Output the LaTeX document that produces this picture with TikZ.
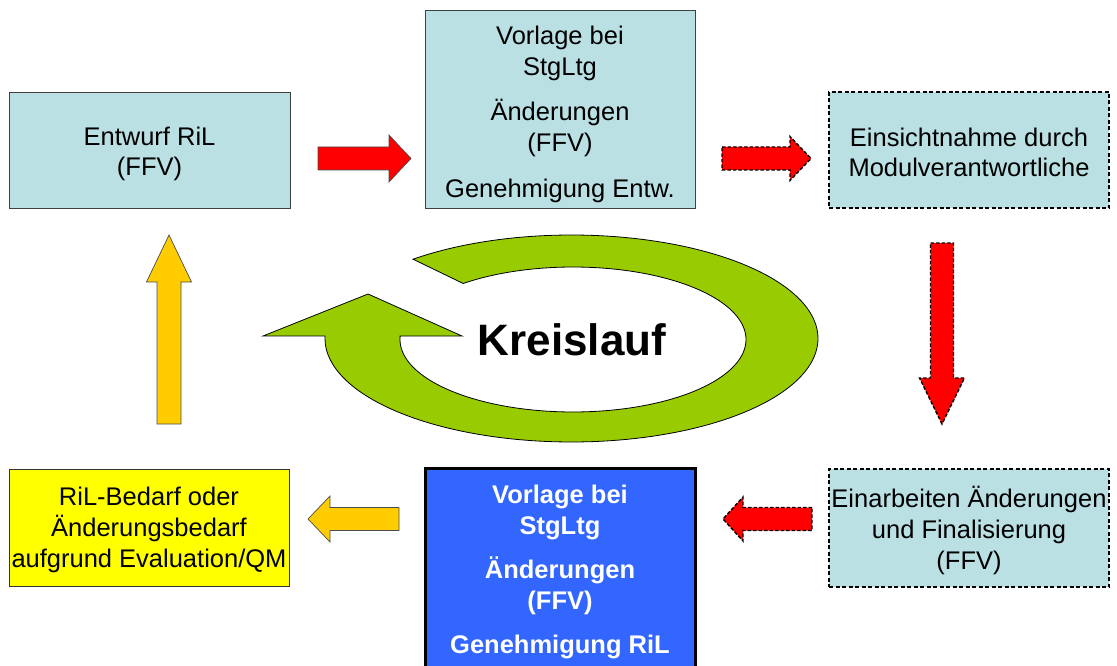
\documentclass[tikz,border=0pt]{standalone}
\usepackage{fontspec}
\setmainfont{Liberation Sans}
\definecolor{cyanbox}{RGB}{186,224,227}
\definecolor{bluebox}{RGB}{51,102,255}
\definecolor{yellowbox}{RGB}{255,255,0}
\definecolor{arrowyellow}{RGB}{255,204,0}
\definecolor{ringgreen}{RGB}{153,204,0}
\definecolor{arrowred}{RGB}{255,0,0}
\newcommand\boxfont{\fontsize{25.5}{30}\selectfont}
\newcommand\bluefont{\fontsize{25.5}{31}\selectfont\bfseries}
\begin{document}
\begin{tikzpicture}[x=1pt,y=-1pt,
  box/.style={draw=black!75, line width=0.8pt, fill=cyanbox, inner sep=0pt},
  dbox/.style={box, draw=black, dash pattern=on 4pt off 2.5pt, line width=1.4pt},
  boxtext/.style={inner sep=0pt, align=center, font=\boxfont},
  solidarrow/.style={draw=black!70, line width=0.7pt, line join=miter},
  dasharrow/.style={draw=black, dash pattern=on 3.5pt off 2pt, line width=1.4pt, fill=arrowred, line join=miter},
  ring/.style={draw=black, line width=0.8pt, fill=ringgreen}]
\useasboundingbox (0,0) rectangle (1117,666);
\clip (0,0) rectangle (1117,666);

% boxes
\node[box, minimum width=281pt, minimum height=116pt] (entwurf) at (149.5,150) {};
\node[boxtext] (entwurf-t) at ([yshift=-4pt]entwurf.center) {Entwurf RiL\\(FFV)};

\node[box, minimum width=270pt, minimum height=198pt] (vorlage) at (560,109) {};
\node[boxtext, font=\fontsize{25.5}{31}\selectfont] (vorlage-t) at ([yshift=-5pt]vorlage.center)
  {Vorlage bei\\StgLtg\\[14pt]Änderungen\\(FFV)\\[15pt]Genehmigung Entw.};

\node[dbox, minimum width=280pt, minimum height=116pt] (einsicht) at (969,150) {};
\node[boxtext] (einsicht-t) at ([yshift=-2pt]einsicht.center) {Einsichtnahme durch\\Modulverantwortliche};

\node[dbox, minimum width=280pt, minimum height=118pt] (einarb) at (969,528) {};
\node[boxtext, font=\fontsize{25.5}{31}\selectfont] (einarb-t) at ([yshift=-2pt]einarb.center)
  {Einarbeiten Änderungen\\und Finalisierung\\(FFV)};

\node[draw=black, line width=3pt, fill=bluebox, inner sep=0pt,
  minimum width=270pt, minimum height=204pt] (genehm) at (560,570) {};
\node[boxtext, font=\bluefont, text=white] (genehm-t) at ([yshift=-2pt]genehm.center)
  {Vorlage bei\\StgLtg\\[13pt]Änderungen\\(FFV)\\[13pt]Genehmigung RiL};

\node[box, fill=yellowbox, draw=black!80, minimum width=280pt, minimum height=117pt] (bedarf) at (149,527.5) {};
\node[boxtext, font=\fontsize{25.5}{31}\selectfont] (bedarf-t) at ([yshift=-2.5pt]bedarf.center)
  {RiL-Bedarf oder\\Änderungsbedarf\\aufgrund Evaluation/QM};

% block arrows
\draw[solidarrow, fill=arrowred] (318,147) -- (389,147) -- (389,135) -- (411,158.5) -- (389,182) -- (389,170) -- (318,170) -- cycle;
\draw[dasharrow] (722,147) -- (790,147) -- (790,136.5) -- (811,158.5) -- (790,180.5) -- (790,170) -- (722,170) -- cycle;
\draw[dasharrow] (930.5,243) -- (953.5,243) -- (953.5,378) -- (964.5,378) -- (942,424) -- (919.5,378) -- (930.5,378) -- cycle;
\draw[dasharrow] (812,507.5) -- (743,507.5) -- (743,497) -- (723,519) -- (743,541) -- (743,530.5) -- (812,530.5) -- cycle;
\draw[solidarrow, fill=arrowyellow] (399,507.5) -- (330,507.5) -- (330,496) -- (308,519) -- (330,542) -- (330,530.5) -- (399,530.5) -- cycle;
\draw[solidarrow, fill=arrowyellow] (157,424) -- (157,282) -- (146.5,282) -- (169,235) -- (191.5,282) -- (181,282) -- (181,424) -- cycle;

% circular arrow
\draw[ring] plot[domain=0:1, samples=150] ({571.5+246.5*cos(-130+312*\x)},{338.5+103.5*sin(-130+312*\x)})
  -- (263,336) -- (368,294) -- (462,336) -- (400.1,336)
  -- plot[domain=0:1, samples=150] ({573+173*cos(182-312*\x)},{339.5+72.5*sin(182-312*\x)}) -- cycle;
\node[font=\fontsize{44}{50}\selectfont\bfseries] (kreis) at (572,340) {Kreislauf};
\end{tikzpicture}
\end{document}
